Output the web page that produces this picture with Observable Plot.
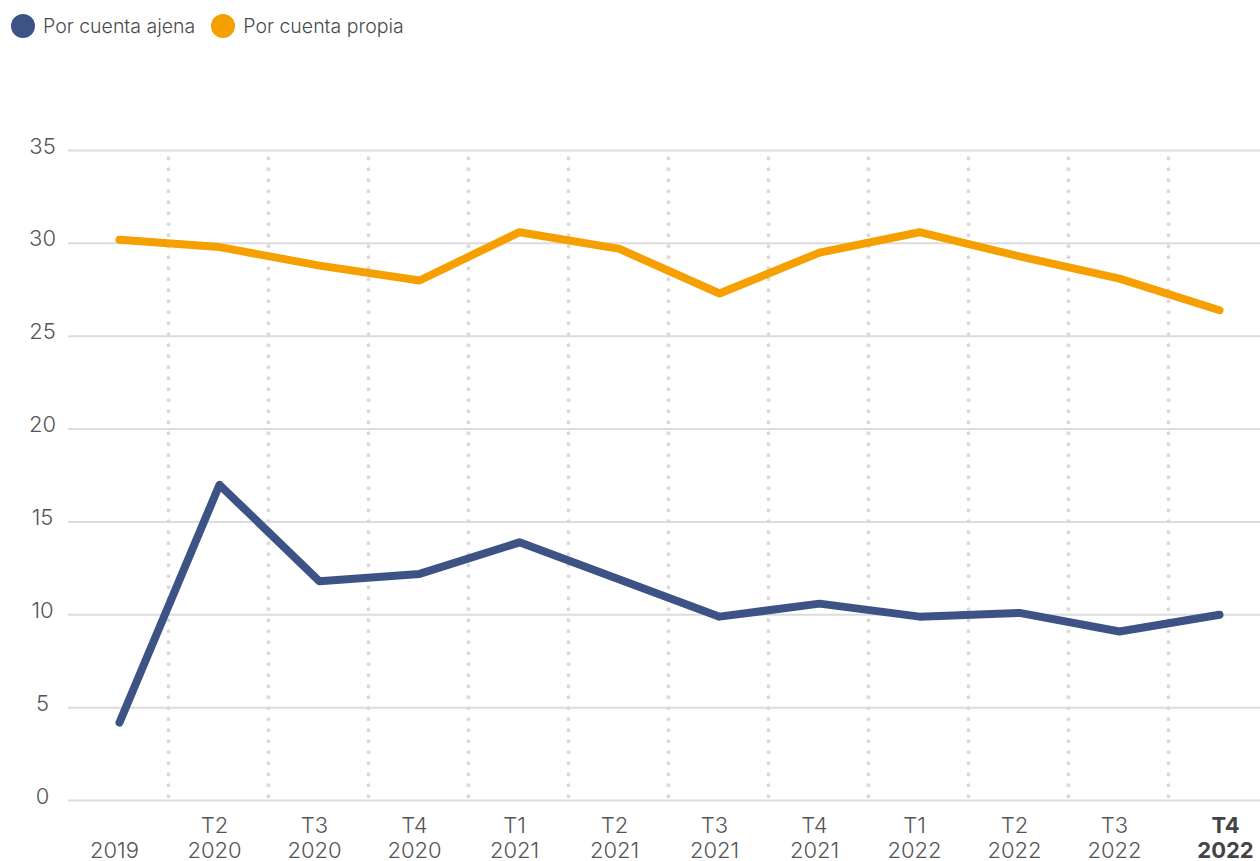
<!DOCTYPE html>
<html>
<head>
<meta charset="utf-8">
<script src="https://cdn.jsdelivr.net/npm/d3@7"></script>
<script src="https://cdn.jsdelivr.net/npm/@observablehq/plot@0.6"></script>
<style>
  html, body { margin: 0; padding: 0; background: #fff; }
  #wrap { position: relative; width: 1260px; height: 861px; font-family: Inter, "Open Sans", sans-serif; }
  #legend { position: absolute; top: 14px; left: 11px; display: flex; align-items: center; font-size: 19.5px; color: #4a4a4a; font-weight: 300; }
  .sw { width: 24px; height: 24px; border-radius: 50%; display: inline-block; margin-right: 8px; }
  .item { display: flex; align-items: center; margin-right: 16px; }
</style>
</head>
<body>
<div id="wrap">
  <div id="legend"></div>
  <div id="chart"></div>
</div>
<script>
const periods = ["2019", "T2 2020", "T3 2020", "T4 2020", "T1 2021", "T2 2021", "T3 2021", "T4 2021", "T1 2022", "T2 2022", "T3 2022", "T4 2022"];
const quarterLabels = ["", "T2", "T3", "T4", "T1", "T2", "T3", "T4", "T1", "T2", "T3", "T4"];
const yearLabels = ["2019", "2020", "2020", "2020", "2021", "2021", "2021", "2021", "2022", "2022", "2022", "2022"];
const ajena = [4.2, 17.0, 11.8, 12.2, 13.9, 11.9, 9.9, 10.6, 9.9, 10.1, 9.1, 10.0];
const propia = [30.2, 29.8, 28.8, 28.0, 30.6, 29.7, 27.3, 29.5, 30.6, 29.3, 28.1, 26.4];
const seriesNames = ["Por cuenta ajena", "Por cuenta propia"];
const seriesColors = ["#3d5385", "#f59f00"];
const yTicks = [0, 5, 10, 15, 20, 25, 30, 35];

const rows = [];
periods.forEach((p, i) => {
  rows.push({period: p, serie: seriesNames[0], value: ajena[i]});
  rows.push({period: p, serie: seriesNames[1], value: propia[i]});
});
const labels = periods.map((p, i) => ({period: p, q: quarterLabels[i], yr: yearLabels[i], last: i === periods.length - 1}));

const legend = document.getElementById("legend");
seriesNames.forEach((n, i) => {
  const d = document.createElement("div");
  d.className = "item";
  d.innerHTML = `<span class="sw" style="background:${seriesColors[i]}"></span><span>${n}</span>`;
  legend.appendChild(d);
});

const chart = Plot.plot({
  width: 1260,
  height: 861,
  marginTop: 150,
  marginBottom: 61,
  marginLeft: 68,
  marginRight: 0,
  style: {fontFamily: "Inter, 'Open Sans', sans-serif", background: "transparent"},
  x: {type: "point", domain: periods, range: [119, 1219], padding: 0, axis: null},
  y: {domain: [0, 35], axis: null},
  color: {domain: seriesNames, range: seriesColors},
  marks: [
    Plot.ruleY(yTicks, {stroke: "#dcdcdc", strokeWidth: 2}),
    Plot.ruleX(periods.slice(0, -1), {x: d => d, dx: 49, y1: 34.55, y2: 0, stroke: "#d9d9d9", strokeWidth: 4, strokeDasharray: "0 11", strokeLinecap: "round"}),
    Plot.text(yTicks, {y: d => d, text: d => String(d), frameAnchor: "left", dx: -26, dy: -4, textAnchor: "middle", fontSize: 22, fill: "#555", fontWeight: 300}),
    Plot.line(rows, {x: "period", y: "value", stroke: "serie", strokeWidth: 8, strokeLinecap: "round", strokeLinejoin: "round"}),
    Plot.text(labels.filter(d => !d.last), {x: "period", text: "q", frameAnchor: "bottom", dy: 32, dx: -5, fontSize: 22, fill: "#555", fontWeight: 300}),
    Plot.text(labels.filter(d => !d.last), {x: "period", text: "yr", frameAnchor: "bottom", dy: 57, dx: -5, fontSize: 22, fill: "#555", fontWeight: 300}),
    Plot.text(labels.filter(d => d.last), {x: "period", text: "q", frameAnchor: "bottom", dy: 32, dx: 6, fontSize: 22, fill: "#444", fontWeight: 700}),
    Plot.text(labels.filter(d => d.last), {x: "period", text: "yr", frameAnchor: "bottom", dy: 57, dx: 6, fontSize: 22, fill: "#444", fontWeight: 700})
  ]
});
document.getElementById("chart").appendChild(chart);
</script>
</body>
</html>
